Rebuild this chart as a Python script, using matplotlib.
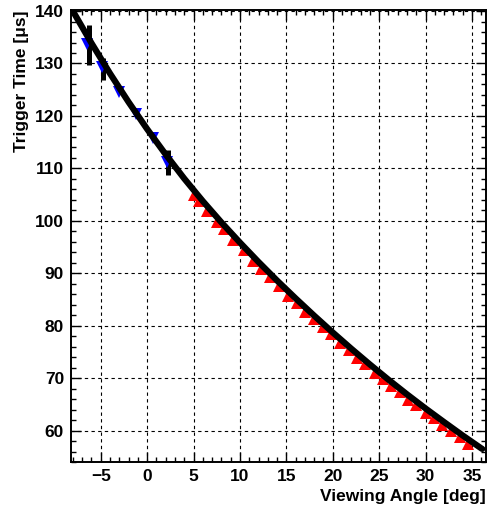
import matplotlib
matplotlib.use("Agg")
import numpy as np
from matplotlib import pyplot as plt
from matplotlib.ticker import MultipleLocator

plt.rcParams['font.family'] = ['Liberation Sans', 'DejaVu Sans']

# fit curve
curve_x = [-8.2, -8, -6, -4, -2, 0, 2, 4, 6, 8, 10, 12, 14, 16, 18, 20, 22, 24, 26, 28,
           30, 32, 34, 36, 36.1]
curve_y = [140.6, 140.0, 133.9, 128.1, 122.65, 117.5, 112.65, 108.05, 103.75, 99.7, 95.85,
           92.15, 88.6, 85.2, 81.9, 78.7, 75.6, 72.6, 69.7, 66.9, 64.2, 61.6, 59.05, 56.6,
           56.5]

# red up-triangles
red_x = [5.0, 5.6, 6.5, 7.5, 8.3, 9.3, 10.4, 11.4, 12.3, 13.2, 14.2, 15.2, 16.1, 17.0,
         18.0, 18.9, 19.8, 20.8, 21.7, 22.6, 23.5, 24.5, 25.4, 26.3, 27.2, 28.1, 29.0,
         30.0, 30.9, 31.8, 32.7, 33.7, 34.6]
red_y = [105.0, 103.8, 101.9, 99.8, 98.4, 96.3, 94.4, 92.4, 90.9, 89.2, 87.6, 85.7, 84.4,
         82.7, 81.2, 79.7, 78.4, 76.6, 75.4, 73.9, 72.7, 71.0, 69.9, 68.5, 67.3, 65.9, 64.9,
         63.4, 62.3, 61.0, 60.0, 58.7, 57.5]

# blue down-triangles
blue_x = [-6.5, -4.9, -3.0, -1.2, 0.6, 2.1]
blue_y = [133.8, 129.3, 124.6, 120.3, 115.8, 111.3]

# black points with errors
blk_x = [-6.3, -4.7, 2.2]
blk_y = [133.5, 129.0, 111.1]
blk_err = [3.8, 2.1, 2.4]

fig = plt.figure(figsize=(4.87, 5.11), dpi=100)
ax = fig.add_axes([0.1458, 0.0959, 0.852, 0.8845])

ax.errorbar(blk_x, blk_y, yerr=blk_err, fmt='none', ecolor='black', elinewidth=3.6,
            capsize=0, zorder=2)
ax.plot(red_x, red_y, linestyle='none', marker='^', color='red', markersize=8.5,
        markeredgewidth=0, zorder=3)
ax.plot(blue_x, blue_y, linestyle='none', marker='v', color='blue', markersize=8,
        markeredgewidth=0, zorder=3)
ax.plot(curve_x, curve_y, color='black', linewidth=4.5, solid_capstyle='round',
        solid_joinstyle='round', zorder=4)

ax.set_xlim(-8.2, 36.5)
ax.set_ylim(54, 140.2)

ax.xaxis.set_major_locator(MultipleLocator(5))
ax.xaxis.set_minor_locator(MultipleLocator(1))
ax.yaxis.set_major_locator(MultipleLocator(10))
ax.yaxis.set_minor_locator(MultipleLocator(2))

ax.tick_params(which='both', direction='in', top=True, right=True, width=1.0)
ax.tick_params(which='major', length=7, labelsize=12.5, pad=5)
ax.tick_params(which='minor', length=3.5)
for lbl in ax.get_xticklabels() + ax.get_yticklabels():
    lbl.set_fontweight('bold')

ax.grid(True, which='major', color='black', linestyle=(0, (3, 3)), linewidth=0.8)

for s in ax.spines.values():
    s.set_linewidth(1.4)

ax.set_xlabel('Viewing Angle [deg]', fontsize=12.5, fontweight='bold', loc='right',
              labelpad=4)
ax.set_ylabel('Trigger Time [\u03bcs]', fontsize=12.5, fontweight='bold', loc='top',
              labelpad=4)

plt.savefig('out.png', dpi=100)
